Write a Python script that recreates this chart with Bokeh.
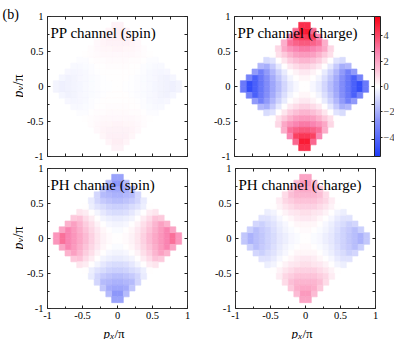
import numpy as np
from bokeh.plotting import figure
from bokeh.layouts import column, row
from bokeh.models import (ColumnDataSource, LinearColorMapper, ColorBar, FixedTicker,
                          LinearAxis, Label, Range1d)
from bokeh.transform import transform
from bokeh.embed import file_html
from bokeh.resources import INLINE

# ---------------- data ----------------
panel_titles = ["PP channel (spin)", "PP channel (charge)", "PH channe (spin)", "PH channel (charge)"]
axis_ticks = [-1.0, -0.5, 0.0, 0.5, 1.0]
axis_tick_labels = ["-1", "-0.5", "0", "0.5", "1"]
minor_axis_ticks = [-0.75, -0.25, 0.25, 0.75]
colorbar_ticks = [-4, -2, 0, 2, 4]
color_low, color_high = -5.5, 5.5
grid_points = 24  # momentum points per axis (cells centred at (2n+1)/24)

# One quadrant (px>0, py>0) per panel; row j = py index, entry i = px index.
pp_spin = [
    [0.0, -0.01, -0.04, -0.08, -0.12, -0.17, -0.22, -0.27, -0.32, -0.36, -0.27],
    [0.01, 0.0, -0.03, -0.06, -0.11, -0.16, -0.21, -0.26, -0.31, -0.24],
    [0.04, 0.03, 0.0, -0.04, -0.08, -0.13, -0.18, -0.24, -0.20],
    [0.08, 0.06, 0.04, 0.0, -0.05, -0.10, -0.15, -0.14],
    [0.12, 0.11, 0.08, 0.05, 0.0, -0.05, -0.07],
    [0.17, 0.16, 0.13, 0.10, 0.05, 0.0],
    [0.22, 0.21, 0.18, 0.15, 0.07],
    [0.27, 0.26, 0.24, 0.14],
    [0.32, 0.31, 0.20],
    [0.36, 0.24],
    [0.30],
]
pp_charge = [
    [0.0, -0.2, -0.5, -1.0, -1.6, -2.2, -2.9, -3.6, -4.3, -4.9, -3.5],
    [0.2, 0.0, -0.3, -0.8, -1.4, -2.1, -2.8, -3.5, -4.3, -3.2],
    [0.5, 0.3, 0.0, -0.5, -1.1, -1.8, -2.5, -3.3, -2.5],
    [1.0, 0.8, 0.5, 0.0, -0.6, -1.3, -2.0, -1.8],
    [1.6, 1.4, 1.1, 0.6, 0.0, -0.7, -0.9],
    [2.2, 2.1, 1.7, 1.2, 0.7, 0.0],
    [2.9, 2.7, 2.4, 1.9, 0.9],
    [3.6, 3.4, 3.1, 1.8],
    [4.3, 4.1, 2.6],
    [4.9, 3.3],
    [4.5],
]
ph_spin = [
    [0.0, 0.1, 0.3, 0.6, 1.0, 1.5, 1.9, 2.3, 2.7, 3.1, 2.3],
    [-0.1, 0.0, 0.2, 0.5, 0.9, 1.3, 1.8, 2.2, 2.7, 2.0],
    [-0.3, -0.2, 0.0, 0.3, 0.7, 1.1, 1.6, 2.1, 1.7],
    [-0.5, -0.4, -0.3, 0.0, 0.4, 0.8, 1.3, 1.2],
    [-0.9, -0.8, -0.6, -0.3, 0.0, 0.4, 0.6],
    [-1.2, -1.1, -0.9, -0.7, -0.4, 0.0],
    [-1.6, -1.5, -1.3, -1.0, -0.5],
    [-1.9, -1.8, -1.7, -1.0],
    [-2.2, -2.1, -1.4],
    [-2.6, -1.7],
    [-2.3],
]
ph_charge = [
    [0.0, -0.1, -0.2, -0.4, -0.6, -0.9, -1.1, -1.4, -1.6, -1.9, -1.4],
    [0.1, 0.0, -0.1, -0.3, -0.5, -0.8, -1.1, -1.3, -1.6, -1.2],
    [0.2, 0.2, 0.0, -0.2, -0.4, -0.7, -0.9, -1.2, -1.0],
    [0.5, 0.4, 0.2, 0.0, -0.2, -0.5, -0.7, -0.7],
    [0.7, 0.6, 0.5, 0.3, 0.0, -0.3, -0.4],
    [1.0, 1.0, 0.8, 0.6, 0.3, 0.0],
    [1.3, 1.3, 1.1, 0.9, 0.4],
    [1.6, 1.6, 1.4, 0.8],
    [1.9, 1.8, 1.2],
    [2.2, 1.5],
    [2.0],
]

# ---------------- styling ----------------
FONT = "Liberation Serif"
TICK_FS = "10.5px"
anchor_vals = [-5.5, -2.75, 0.0, 2.75, 5.5]
anchor_rgb = [(30, 60, 250), (135, 145, 250), (255, 255, 255), (250, 130, 175), (250, 0, 20)]
t = np.linspace(color_low, color_high, 256)
chan = [np.interp(t, anchor_vals, [c[k] for c in anchor_rgb]) for k in range(3)]
palette = ["#%02x%02x%02x" % (int(round(r)), int(round(g)), int(round(b)))
           for r, g, b in zip(*chan)]
mapper = LinearColorMapper(palette=palette, low=color_low, high=color_high)

FW, FH = 140, 140
STRIP_W = 23
STRIP_H = 16
TOP_B = 16
MID_B = 6


def full_grid(quadrant):
    xs, ys, vs = [], [], []
    for j, vals in enumerate(quadrant):
        ky = (2 * j + 1) / grid_points
        for i, v in enumerate(vals):
            kx = (2 * i + 1) / grid_points
            for sx in (-1, 1):
                for sy in (-1, 1):
                    xs.append(sx * kx)
                    ys.append(sy * ky)
                    vs.append(v)
    return ColumnDataSource(dict(x=xs, y=ys, v=vs))


def style_axis(ax, labels, standoff=0, out=0):
    ax.axis_line_color = None
    ax.major_tick_line_color = "#222222"
    ax.minor_tick_line_color = "#222222"
    if labels:
        ax.ticker = FixedTicker(ticks=axis_ticks, minor_ticks=minor_axis_ticks)
        ax.major_tick_in = 3
        ax.major_tick_out = 0
        ax.minor_tick_in = 2
        ax.minor_tick_out = 0
        ax.major_label_overrides = dict(zip(axis_ticks, axis_tick_labels))
        ax.major_label_text_font = FONT
        ax.major_label_text_font_size = TICK_FS
        ax.major_label_text_color = "black"
        ax.major_label_standoff = standoff
    else:
        ax.ticker = FixedTicker(ticks=[], minor_ticks=sorted(axis_ticks + minor_axis_ticks))
        ax.major_tick_in = 0
        ax.major_tick_out = out
        ax.minor_tick_in = 3
        ax.minor_tick_out = 0
        ax.major_label_standoff = 0


def add_text(p, x, y, text, dx, dy, size, italic=False, angle=0.0, align="left"):
    p.add_layout(Label(x=x, y=y, x_offset=dx, y_offset=dy, text=text, angle=angle,
                       text_font=FONT, text_font_size=size,
                       text_font_style="italic" if italic else "normal",
                       text_color="black", text_align=align, text_baseline="alphabetic"))


def panel(title, quadrant, xlabels, borders, right_out=0):
    p = figure(frame_width=FW, frame_height=FH, x_range=Range1d(-1, 1), y_range=Range1d(-1, 1),
               x_axis_type=None, y_axis_type=None, output_backend="svg", toolbar_location=None,
               min_border_left=borders[0], min_border_right=borders[1],
               min_border_top=borders[2], min_border_bottom=borders[3])
    p.outline_line_color = "#333333"
    p.outline_line_width = 1
    p.background_fill_color = "white"
    p.border_fill_color = "white"

    left = LinearAxis()
    style_axis(left, True, 4)
    p.add_layout(left, "left")
    bottom = LinearAxis()
    style_axis(bottom, xlabels, 3)
    p.add_layout(bottom, "below")
    top = LinearAxis()
    style_axis(top, False)
    p.add_layout(top, "above")
    right = LinearAxis()
    style_axis(right, False, out=right_out)
    p.add_layout(right, "right")

    src = full_grid(quadrant)
    step = 2.0 / grid_points
    p.rect("x", "y", width=step, height=step, source=src,
           fill_color=transform("v", mapper), line_color=transform("v", mapper), line_width=0.6)

    add_text(p, -1, 1, title, 3, -16, "15px")
    return p


def strip(w, h):
    s = figure(width=w, height=h, x_range=Range1d(0, w), y_range=Range1d(0, h),
               x_axis_type=None, y_axis_type=None, output_backend="svg", toolbar_location=None,
               min_border=0, min_border_left=0, min_border_right=0,
               min_border_top=0, min_border_bottom=0)
    s.outline_line_color = None
    s.background_fill_color = "white"
    s.border_fill_color = "white"
    return s


tl = panel(panel_titles[0], pp_spin, False, (21, 17, TOP_B, MID_B))
tr = panel(panel_titles[1], pp_charge, False, (30, 0, TOP_B, MID_B), right_out=3)
bl = panel(panel_titles[2], ph_spin, True, (21, 16, MID_B, 15))
br = panel(panel_titles[3], ph_charge, True, (32, 10, MID_B, 15))

cb = ColorBar(color_mapper=mapper, ticker=FixedTicker(ticks=colorbar_ticks), width=6, height=FH,
              padding=0, margin=0, label_standoff=1, major_tick_in=0, major_tick_out=2,
              major_tick_line_color="#222222", bar_line_color="#222222", border_line_color=None,
              background_fill_color=None, major_label_text_font=FONT,
              major_label_text_font_size=TICK_FS)
tr.add_layout(cb, "right")

col_h = TOP_B + FH + MID_B + MID_B + FH + 15 + STRIP_H
left_strip = strip(STRIP_W, col_h)
tl_center = col_h - (TOP_B + FH / 2)
bl_center = col_h - (TOP_B + FH + 2 * MID_B + FH / 2)
for cy in (tl_center, bl_center):
    ang = np.pi / 2
    # right-aligned so each piece ends at its anchor (text runs upwards)
    add_text(left_strip, 17.5, cy, "p", 0, -4, "14px", italic=True, angle=ang, align="right")
    add_text(left_strip, 20, cy, "y", 0, 0.5, "10px", italic=True, angle=ang, align="right")
    add_text(left_strip, 17.5, cy, "/\u03c0", 0, 12, "14px", angle=ang, align="right")
add_text(left_strip, 2, col_h - 14, "(b)", 0, 0, "14px")

bl_w = 21 + FW + 16
br_w = 32 + FW + 10
bottom_strip = strip(bl_w + br_w, STRIP_H)
for cx in (21 + FW / 2, bl_w + 32 + FW / 2):
    add_text(bottom_strip, cx, 6, "p", -11, 0, "13px", italic=True)
    add_text(bottom_strip, cx, 3.5, "x", -4.5, 0, "9px", italic=True)
    add_text(bottom_strip, cx, 6, "/\u03c0", 0, 0, "13px")

layout = row(left_strip,
             column(row(tl, tr, spacing=0), row(bl, br, spacing=0), bottom_strip, spacing=0),
             spacing=0)

with open("out.html", "w") as f:
    f.write(file_html(layout, INLINE))
